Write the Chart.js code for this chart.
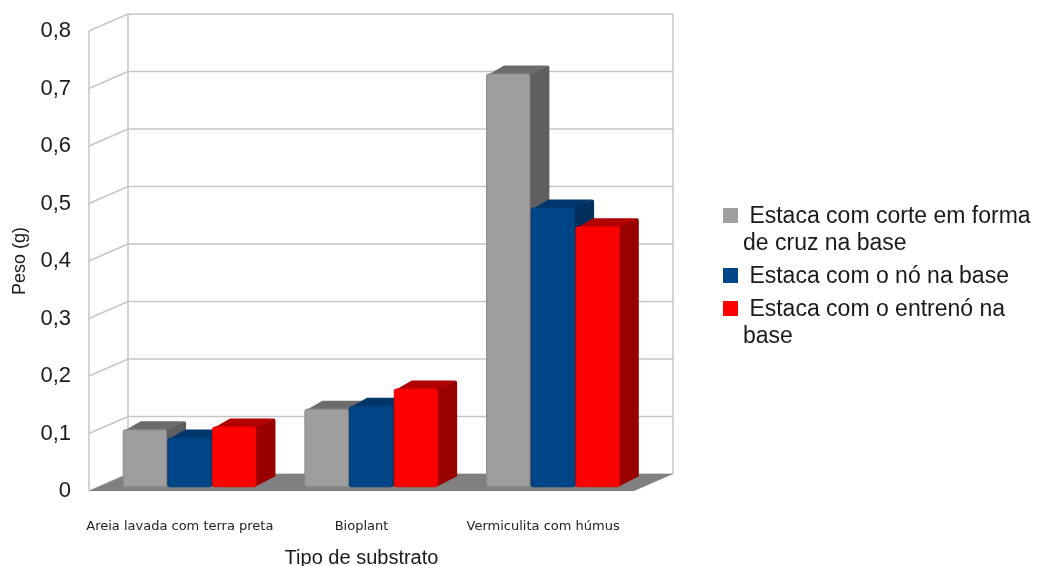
<!DOCTYPE html>
<html>
<head>
<meta charset="utf-8">
<script src="https://cdn.jsdelivr.net/npm/chart.js@4/dist/chart.umd.min.js"></script>
<style>
  html, body { margin: 0; padding: 0; background: #fff; overflow: hidden; }
  #wrap { position: relative; width: 1039px; height: 566px; }
  #legend { position: absolute; left: 723px; top: 202px; font-family: 'Liberation Sans', Arial, sans-serif; font-size: 23px; line-height: 27px; color: #1a1a1a; }
  .item { display: flex; align-items: flex-start; margin-bottom: 6px; }
  .box { width: 15px; height: 15px; margin-top: 6px; margin-right: 5px; flex: none; }
  .txt { width: 296px; }
</style>
</head>
<body>
<div id="wrap">
  <canvas id="chart" width="1039" height="566"></canvas>
  <div id="legend"></div>
</div>
<script>
// Data
const categories = ['Areia lavada com terra preta', 'Bioplant', 'Vermiculita com húmus'];
const seriesLabels = [
    'Estaca com corte em forma de cruz na base',
    'Estaca com o nó na base',
    'Estaca com o entrenó na base'
];
const corteCruz = [0.099, 0.135, 0.718];
const comNo = [0.085, 0.140, 0.485];
const comEntreno = [0.104, 0.170, 0.452];
const yTicks = [0, 0.1, 0.2, 0.3, 0.4, 0.5, 0.6, 0.7, 0.8];

// front / side / top shades for each series
const palette = [
    { front: '#9e9e9e', side: '#5f5f5f', top: '#6c6c6c', edge: '#8a8a8a' },
    { front: '#004586', side: '#002f5c', top: '#00366b', edge: '#003d78' },
    { front: '#ff0000', side: '#990000', top: '#b30000', edge: '#e60000' }
];

// oblique depth of the walls (pixels)
const DX = 39, DY = -17;

function wallLine(ctx, x1, y1, x2, y2) {
    ctx.beginPath();
    ctx.moveTo(x1, y1);
    ctx.lineTo(x2, y2);
    ctx.stroke();
}

function roundedRect(ctx, x, y, w, h, r) {
    ctx.beginPath();
    ctx.moveTo(x + r, y);
    ctx.lineTo(x + w - r, y);
    ctx.quadraticCurveTo(x + w, y, x + w, y + r);
    ctx.lineTo(x + w, y + h - r);
    ctx.quadraticCurveTo(x + w, y + h, x + w - r, y + h);
    ctx.lineTo(x + r, y + h);
    ctx.quadraticCurveTo(x, y + h, x, y + h - r);
    ctx.lineTo(x, y + r);
    ctx.quadraticCurveTo(x, y, x + r, y);
    ctx.closePath();
}

const depth3d = {
    id: 'depth3d',
    beforeDatasetsDraw(chart) {
        const ctx = chart.ctx;
        const { left, right, top, bottom } = chart.chartArea;
        const y = chart.scales.y;
        ctx.save();
        ctx.strokeStyle = '#c6c6c6';
        ctx.lineWidth = 1.5;
        y.ticks.forEach(t => {
            const py = y.getPixelForValue(t.value);
            wallLine(ctx, left + DX, py + DY, right + DX, py + DY);
            wallLine(ctx, left, py, left + DX, py + DY);
        });
        wallLine(ctx, left, top, left, bottom);
        wallLine(ctx, left + DX, top + DY, left + DX, bottom + DY);
        wallLine(ctx, right + DX, top + DY, right + DX, bottom + DY);
        // floor
        ctx.fillStyle = '#808080';
        ctx.beginPath();
        ctx.moveTo(left, bottom);
        ctx.lineTo(right, bottom);
        ctx.lineTo(right + DX, bottom + DY);
        ctx.lineTo(left + DX, bottom + DY);
        ctx.closePath();
        ctx.fill();
        ctx.restore();
    },
    beforeDatasetDraw() {
        return false;
    },
    afterDatasetsDraw(chart) {
        const ctx = chart.ctx;
        const ox = DX / 4, oy = DY / 4;
        const bx = DX / 2, by = DY / 2;
        ctx.save();
        categories.forEach((c, i) => {
            chart.data.datasets.forEach((ds, d) => {
                const bar = chart.getDatasetMeta(d).data[i];
                const p = bar.getProps(['x', 'y', 'base', 'width'], true);
                const col = palette[d];
                const x0 = p.x - p.width / 2 + ox;
                const x1 = p.x + p.width / 2 + ox;
                const yt = p.y + oy;
                const yb = p.base + oy;
                // side face
                ctx.fillStyle = col.side;
                ctx.beginPath();
                ctx.moveTo(x1 - 1, yt);
                ctx.lineTo(x1 + bx - 2, yt + by);
                ctx.quadraticCurveTo(x1 + bx, yt + by, x1 + bx, yt + by + 2);
                ctx.lineTo(x1 + bx, yb + by - 2);
                ctx.lineTo(x1 - 1, yb);
                ctx.closePath();
                ctx.fill();
                // top face
                ctx.fillStyle = col.top;
                ctx.beginPath();
                ctx.moveTo(x0 + 1, yt + 1);
                ctx.lineTo(x0 + bx - 2, yt + by);
                ctx.lineTo(x1 + bx - 2, yt + by);
                ctx.lineTo(x1 - 1, yt + 1);
                ctx.closePath();
                ctx.fill();
                // front face
                roundedRect(ctx, x0, yt, x1 - x0, yb - yt, 2);
                ctx.fillStyle = col.front;
                ctx.fill();
                ctx.strokeStyle = col.edge;
                ctx.lineWidth = 1;
                ctx.stroke();
            });
        });
        ctx.restore();
    }
};

const datasets = [corteCruz, comNo, comEntreno].map((vals, d) => ({
    label: seriesLabels[d],
    data: vals,
    backgroundColor: palette[d].front,
    categoryPercentage: 0.738,
    barPercentage: 0.97
}));

const chart = new Chart(document.getElementById('chart'), {
    type: 'bar',
    data: { labels: categories, datasets: datasets },
    plugins: [depth3d],
    options: {
        responsive: false,
        animation: false,
        devicePixelRatio: 1,
        layout: { padding: { left: 0, right: 405, top: 31, bottom: 0 } },
        plugins: { legend: { display: false }, tooltip: { enabled: false } },
        scales: {
            x: {
                grid: { display: false },
                border: { display: false },
                ticks: {
                    color: '#222',
                    font: { family: 'DejaVu Sans', size: 13 },
                    padding: 20,
                    maxRotation: 0,
                    autoSkip: false
                },
                title: {
                    display: true,
                    text: 'Tipo de substrato',
                    color: '#1a1a1a',
                    font: { family: 'Liberation Sans', size: 20, lineHeight: '16px' },
                    padding: { top: 0, bottom: 0 }
                },
                afterFit(scale) { scale.height = 75; }
            },
            y: {
                min: 0,
                max: 0.8,
                grid: { display: false },
                border: { display: false },
                afterBuildTicks(scale) {
                    scale.ticks = yTicks.map(v => ({ value: v }));
                },
                ticks: {
                    color: '#1a1a1a',
                    font: { family: 'Liberation Sans', size: 22 },
                    padding: 10,
                    callback: v => v === 0 ? '0' : v.toFixed(1).replace('.', ',')
                },
                title: {
                    display: true,
                    text: 'Peso (g)',
                    color: '#1a1a1a',
                    font: { family: 'Liberation Sans', size: 18, lineHeight: '18px' },
                    padding: { top: 11, bottom: 0 }
                },
                afterFit(scale) { scale.width = 89; }
            }
        }
    }
});

// legend with wrapped labels
const legend = document.getElementById('legend');
seriesLabels.forEach((label, d) => {
    const item = document.createElement('div');
    item.className = 'item';
    item.innerHTML = `<div class="box" style="background:${palette[d].front}"></div><div class="txt">&nbsp;${label}</div>`;
    legend.appendChild(item);
});
</script>
</body>
</html>
